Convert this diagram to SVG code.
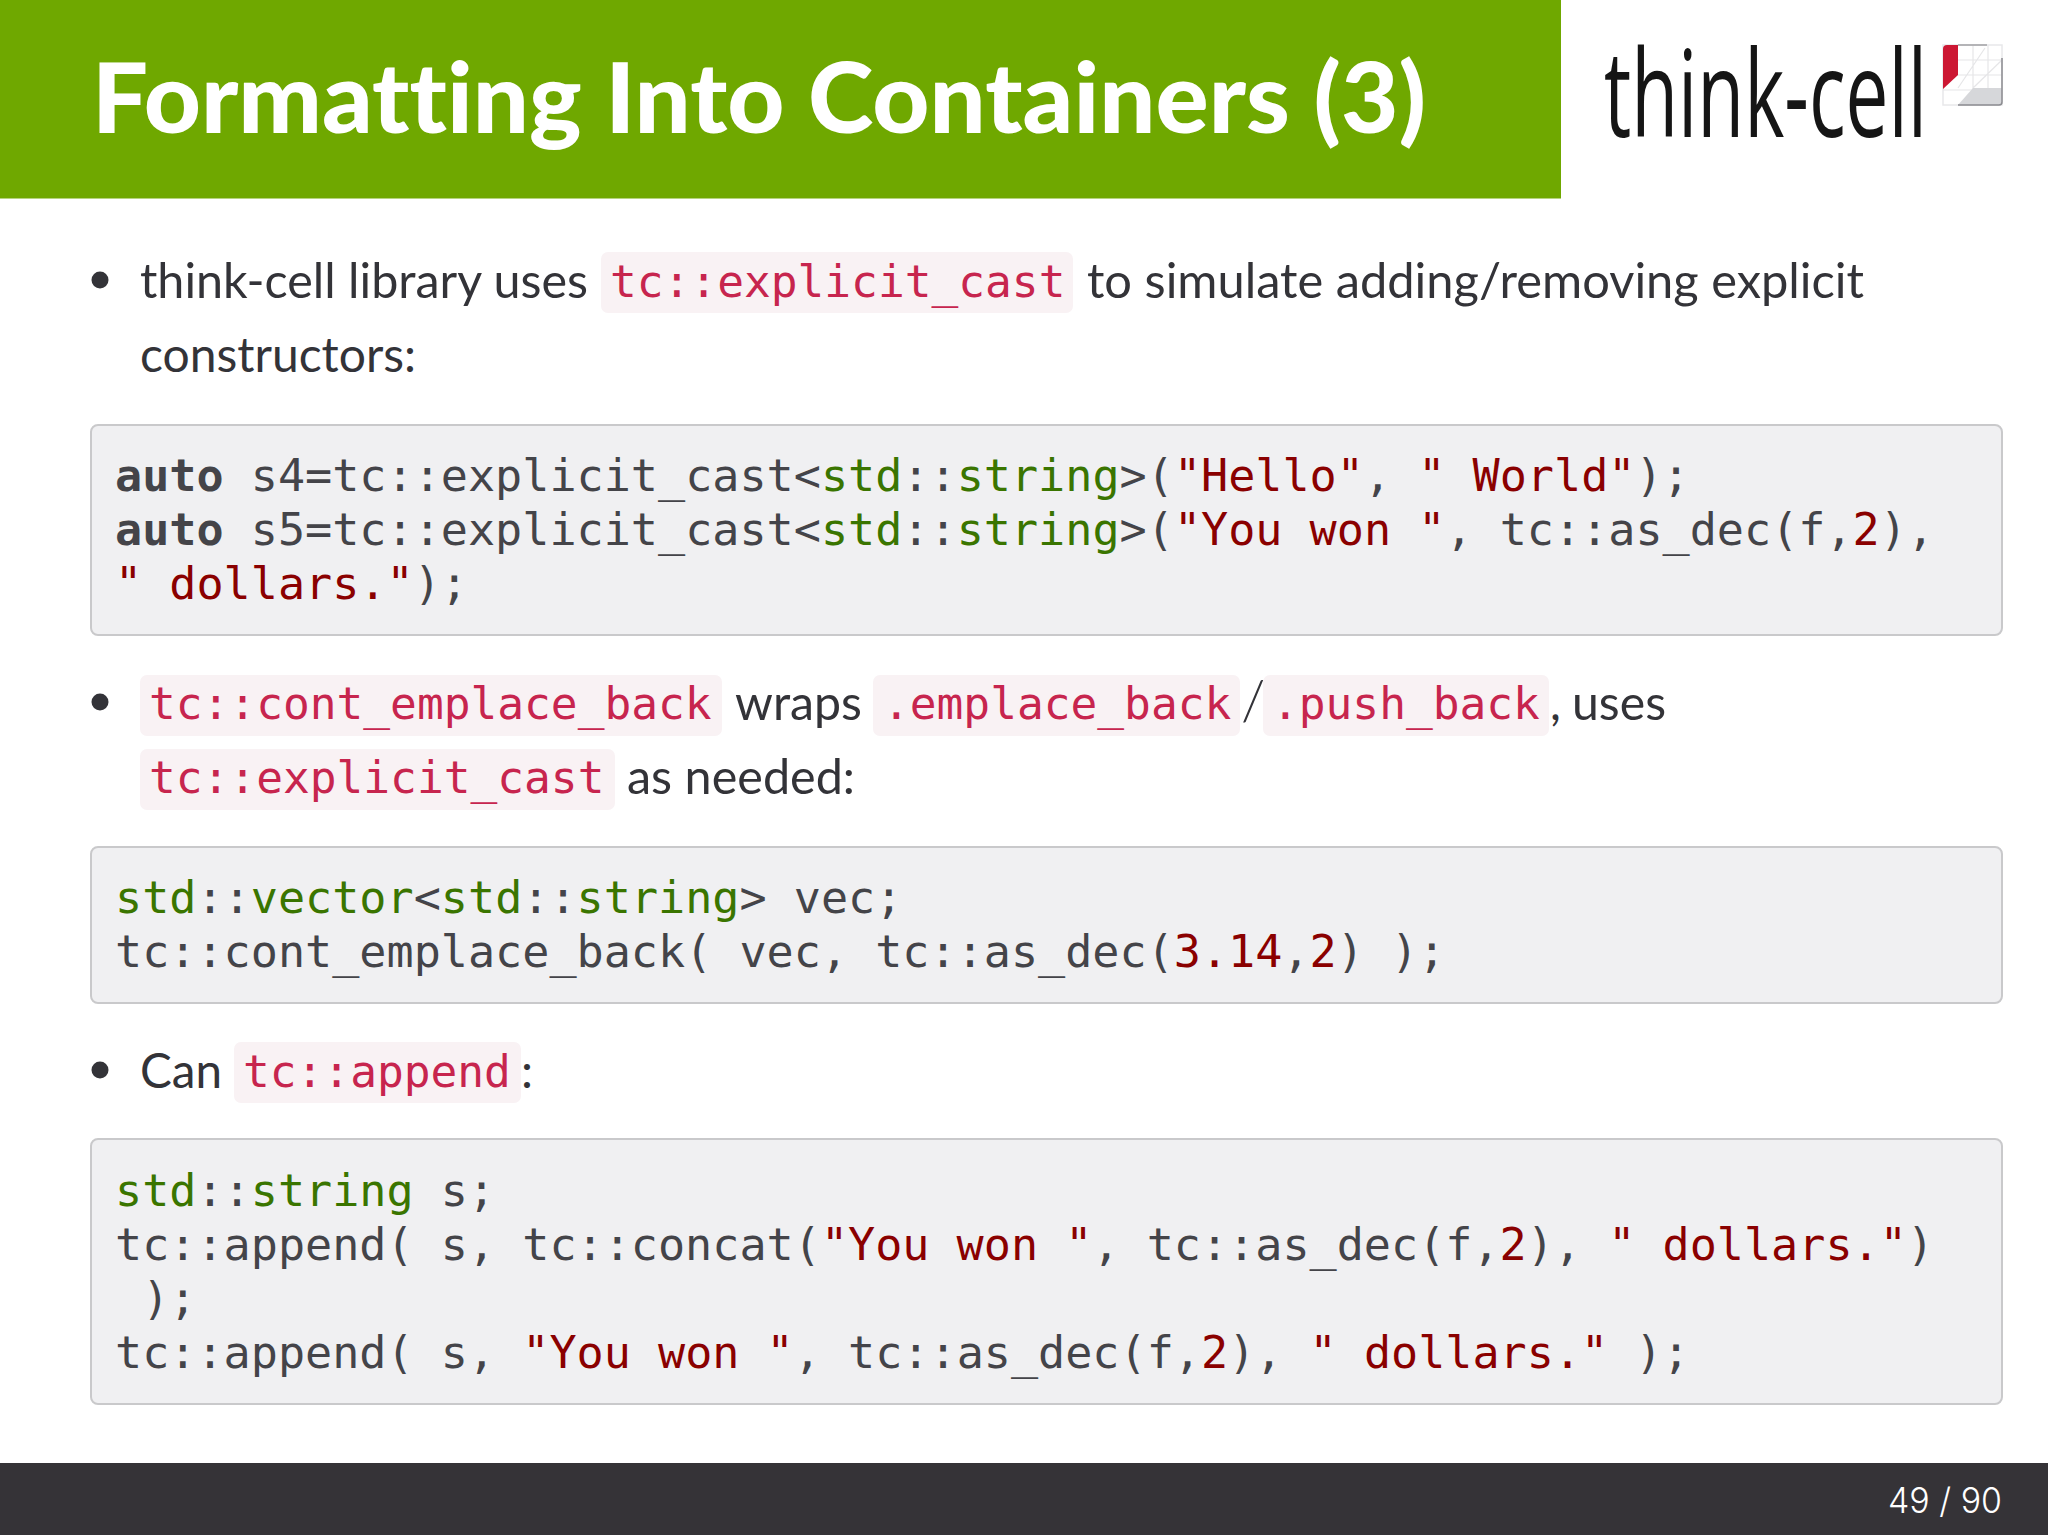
<svg xmlns="http://www.w3.org/2000/svg" width="2048" height="1536" viewBox="0 0 2048 1536">
<style>
.b{font-family:"Lato","Open Sans",sans-serif;font-weight:400;font-size:48px;fill:#333338;font-variant-ligatures:none}
.c{font-family:"DejaVu Sans Mono",monospace;font-size:45.1px;fill:#444449;white-space:pre}
.i{font-family:"DejaVu Sans Mono",monospace;font-size:44.5px;fill:#c7254e;white-space:pre}
.k{font-weight:bold}.g{fill:#3a7500}.s{fill:#8a0000}
.ib{fill:#f9f2f4}
.box{fill:#f0f0f2;stroke:#c9c9cb;stroke-width:2}
.dot{fill:#333338}
</style>
<rect width="2048" height="1536" fill="#fff"/>
<g id="header">
<rect width="1561" height="198.500" fill="#6fa800"/>
<text x="92" y="133" font-family="Lato,'Open Sans',sans-serif" font-weight="900" font-size="97" fill="#fff" textLength="1334" lengthAdjust="spacingAndGlyphs"><tspan style="font-variant-ligatures:none">Formatting Into Containers (3)</tspan></text>
</g>
<g id="logo">
<text x="1604" y="137" font-family="'Open Sans',sans-serif" font-weight="500" font-size="121" fill="#151515" textLength="323" lengthAdjust="spacingAndGlyphs">think-cell</text>
<rect x="1943" y="45" width="59" height="60" fill="#fff" stroke="#e8e8ea" stroke-width="1.500"/>
<path d="M1943 60H2002M1943 75H2002M1943 90H2002M1973 45V105M1988 45V105M1958 88L1985 48M1973 88L2002 60" stroke="#e6e6e8" stroke-width="1.200" fill="none"/>
<path d="M1958 105L1973 88H2002V105Z" fill="#d6d7da"/>
<path d="M1958 105H1999Q2002 105 2002 102V58" fill="none" stroke="#8b8b90" stroke-width="1.500"/>
<path d="M1943 49Q1943 45 1947 45H1958V75L1943 89Z" fill="#cc1733"/>
<path d="M1958 45H1987" stroke="#a0a0a4" stroke-width="1.500"/>
</g>
<g id="text1">
<circle class="dot" cx="100" cy="280" r="8.500"/>
<text class="b" x="140" y="298" textLength="448" lengthAdjust="spacingAndGlyphs">think-cell library uses</text>
<rect class="ib" x="601" y="252" width="472" height="61" rx="7"/>
<text class="i" x="610" y="297">tc::explicit_cast</text>
<text class="b" x="1087" y="298" textLength="777" lengthAdjust="spacingAndGlyphs">to simulate adding/removing explicit</text>
<text class="b" x="140" y="372" textLength="276" lengthAdjust="spacingAndGlyphs">constructors:</text>
</g>
<g id="code1">
<rect class="box" x="91" y="425" width="1911" height="210" rx="7"/>
<text class="c" x="115" y="491"><tspan class="k">auto</tspan> s4=tc::explicit_cast&lt;<tspan class="g">std</tspan>::<tspan class="g">string</tspan>&gt;(<tspan class="s">"Hello"</tspan>, <tspan class="s">" World"</tspan>);</text>
<text class="c" x="115" y="545"><tspan class="k">auto</tspan> s5=tc::explicit_cast&lt;<tspan class="g">std</tspan>::<tspan class="g">string</tspan>&gt;(<tspan class="s">"You won "</tspan>, tc::as_dec(f,<tspan class="s">2</tspan>),</text>
<text class="c" x="115" y="599"><tspan class="s">" dollars."</tspan>);</text>
</g>
<g id="text2">
<circle class="dot" cx="100" cy="702" r="8.500"/>
<rect class="ib" x="140" y="675" width="582" height="61" rx="7"/>
<text class="i" x="149" y="719">tc::cont_emplace_back</text>
<text class="b" x="735" y="720" textLength="127" lengthAdjust="spacingAndGlyphs">wraps</text>
<rect class="ib" x="873" y="675" width="367" height="61" rx="7"/>
<text class="i" x="883" y="719">.emplace_back</text>
<text class="b" x="1241" y="720" style="font-size:56px;font-weight:300">/</text>
<rect class="ib" x="1263" y="675" width="286" height="61" rx="7"/>
<text class="i" x="1272" y="719">.push_back</text>
<text class="b" x="1550" y="720">,</text>
<text class="b" x="1572" y="720" textLength="94" lengthAdjust="spacingAndGlyphs">uses</text>
<rect class="ib" x="140" y="749" width="475" height="61" rx="7"/>
<text class="i" x="149" y="793">tc::explicit_cast</text>
<text class="b" x="627" y="794" textLength="228" lengthAdjust="spacingAndGlyphs">as needed:</text>
</g>
<g id="code2">
<rect class="box" x="91" y="847" width="1911" height="156" rx="7"/>
<text class="c" x="115" y="913"><tspan class="g">std</tspan>::<tspan class="g">vector</tspan>&lt;<tspan class="g">std</tspan>::<tspan class="g">string</tspan>&gt; vec;</text>
<text class="c" x="115" y="967">tc::cont_emplace_back( vec, tc::as_dec(<tspan class="s">3.14</tspan>,<tspan class="s">2</tspan>) );</text>
</g>
<g id="text3">
<circle class="dot" cx="100" cy="1070" r="8.500"/>
<text class="b" x="140" y="1088" textLength="82" lengthAdjust="spacingAndGlyphs">Can</text>
<rect class="ib" x="234" y="1042" width="287" height="61" rx="7"/>
<text class="i" x="243" y="1087">tc::append</text>
<text class="b" x="521" y="1088">:</text>
</g>
<g id="code3">
<rect class="box" x="91" y="1139" width="1911" height="265" rx="7"/>
<text class="c" x="115" y="1206"><tspan class="g">std</tspan>::<tspan class="g">string</tspan> s;</text>
<text class="c" x="115" y="1260">tc::append( s, tc::concat(<tspan class="s">"You won "</tspan>, tc::as_dec(f,<tspan class="s">2</tspan>), <tspan class="s">" dollars."</tspan>)</text>
<text class="c" x="115" y="1314"> );</text>
<text class="c" x="115" y="1368">tc::append( s, <tspan class="s">"You won "</tspan>, tc::as_dec(f,<tspan class="s">2</tspan>), <tspan class="s">" dollars."</tspan> );</text>
</g>
<g id="footer">
<rect y="1463" width="2048" height="72" fill="#353337"/>
<text x="1888" y="1513" font-family="Inter,'Open Sans',sans-serif" font-weight="300" font-size="35" fill="#fff" textLength="114" lengthAdjust="spacingAndGlyphs">49 / 90</text>
</g>
</svg>
